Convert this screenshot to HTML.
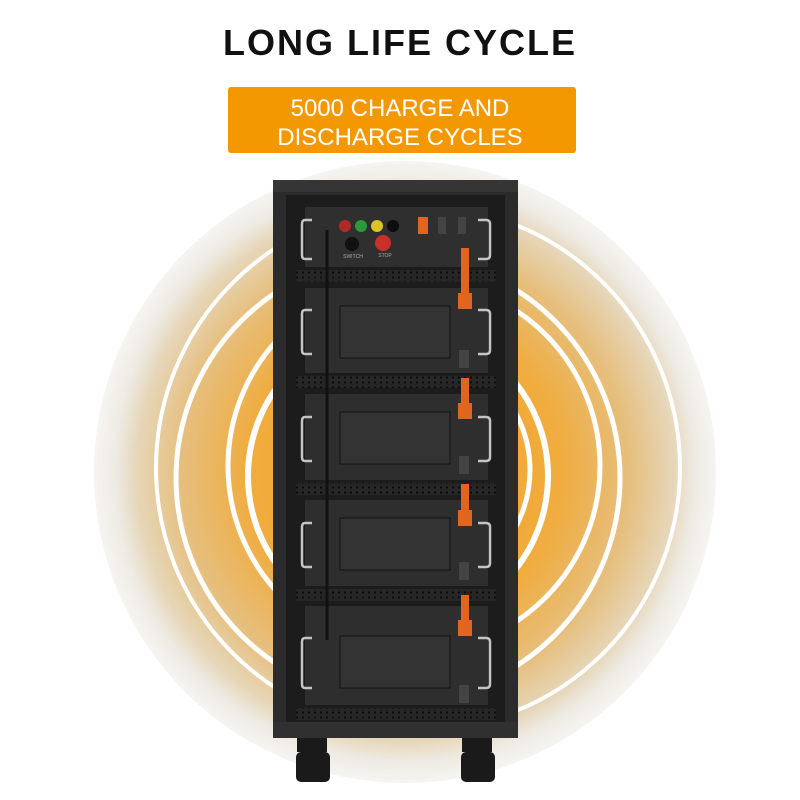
<!DOCTYPE html>
<html><head><meta charset="utf-8"><style>
html,body{margin:0;padding:0;background:#fff;width:800px;height:800px;overflow:hidden}
</style></head><body>
<svg width="800" height="800" viewBox="0 0 800 800" xmlns="http://www.w3.org/2000/svg">
<defs>
<radialGradient id="bg" cx="405" cy="472" r="312" gradientUnits="userSpaceOnUse">
<stop offset="0" stop-color="#f7a326"/><stop offset="0.5" stop-color="#f0ac3e"/><stop offset="0.72" stop-color="#e6bf7e"/><stop offset="0.86" stop-color="#e6d6b8"/><stop offset="0.93" stop-color="#eeebe4"/><stop offset="1" stop-color="#f6f5f2"/>
</radialGradient>
<pattern id="holes" width="6" height="5" patternUnits="userSpaceOnUse"><rect width="6" height="5" fill="#262626"/><circle cx="3" cy="2.5" r="1.1" fill="#0a0a0a"/></pattern>
</defs>
<circle cx="405" cy="472" r="311" fill="url(#bg)"/>
<g fill="none" stroke="#fff">
<circle cx="418" cy="468" r="262" stroke-width="4"/>
<circle cx="398" cy="478" r="222" stroke-width="5"/>
<circle cx="414" cy="466" r="186" stroke-width="5"/>
<circle cx="398" cy="476" r="150" stroke-width="6"/>
<circle cx="410" cy="470" r="120" stroke-width="5"/>
</g>
<text x="400" y="55" text-anchor="middle" font-family="Liberation Sans, sans-serif" font-weight="bold" font-size="36" letter-spacing="2" fill="#111">LONG LIFE CYCLE</text>
<rect x="228" y="87" width="348" height="66" rx="3" fill="#f39800"/>
<text x="400" y="116" text-anchor="middle" font-family="Liberation Sans, sans-serif" font-size="24" fill="#fff">5000 CHARGE AND</text>
<text x="400" y="145" text-anchor="middle" font-family="Liberation Sans, sans-serif" font-size="24" fill="#fff">DISCHARGE CYCLES</text>
<rect x="273" y="180" width="245" height="558" fill="#2b2b2b"/>
<rect x="273" y="180" width="245" height="12" fill="#353535"/>
<rect x="286" y="195" width="219" height="528" fill="#1c1c1c"/>
<rect x="273" y="722" width="245" height="16" fill="#303030"/>
<g fill="#1a1a1a"><rect x="297" y="738" width="30" height="14"/><rect x="296" y="752" width="34" height="30" rx="5"/><rect x="462" y="738" width="30" height="14"/><rect x="461" y="752" width="34" height="30" rx="5"/></g>
<rect x="296" y="270" width="200" height="12" fill="url(#holes)"/>
<rect x="296" y="376" width="200" height="12" fill="url(#holes)"/>
<rect x="296" y="483" width="200" height="12" fill="url(#holes)"/>
<rect x="296" y="589" width="200" height="12" fill="url(#holes)"/>
<rect x="296" y="708" width="200" height="12" fill="url(#holes)"/>
<rect x="305" y="207" width="183" height="60" fill="#2f2f2f"/>
<circle cx="345" cy="226" r="6" fill="#b02a2a"/><circle cx="361" cy="226" r="6" fill="#2a9a3a"/><circle cx="377" cy="226" r="6" fill="#d8c428"/><circle cx="393" cy="226" r="6" fill="#0d0d0d"/>
<circle cx="352" cy="244" r="7" fill="#111"/><circle cx="383" cy="243" r="8" fill="#c9302c"/>
<text x="353" y="258" font-size="5" fill="#aaa" text-anchor="middle" font-family="Liberation Sans, sans-serif">SWITCH</text>
<text x="385" y="257" font-size="5" fill="#aaa" text-anchor="middle" font-family="Liberation Sans, sans-serif">STOP</text>
<rect x="418" y="217" width="10" height="17" fill="#e0651f"/><rect x="438" y="217" width="8" height="17" fill="#444"/><rect x="458" y="217" width="8" height="17" fill="#444"/>
<g fill="#2e2e2e">
<rect x="305" y="288" width="183" height="85"/><rect x="305" y="394" width="183" height="86"/><rect x="305" y="500" width="183" height="86"/><rect x="305" y="606" width="183" height="99"/>
</g>
<g fill="#333" stroke="#111">
<rect x="340" y="306" width="110" height="52"/><rect x="340" y="412" width="110" height="52"/><rect x="340" y="518" width="110" height="52"/><rect x="340" y="636" width="110" height="52"/>
</g>
<g fill="none" stroke="#c4c4c4" stroke-width="2.5" stroke-linejoin="round">
<path d="M312 220 H305 Q302 220 302 224 V255 Q302 259 305 259 H312"/><path d="M478 220 H486 Q490 220 490 224 V255 Q490 259 486 259 H478"/>
<path d="M312 310 H305 Q302 310 302 314 V350 Q302 354 305 354 H312"/><path d="M478 310 H486 Q490 310 490 314 V350 Q490 354 486 354 H478"/>
<path d="M312 417 H305 Q302 417 302 421 V457 Q302 461 305 461 H312"/><path d="M478 417 H486 Q490 417 490 421 V457 Q490 461 486 461 H478"/>
<path d="M312 523 H305 Q302 523 302 527 V563 Q302 567 305 567 H312"/><path d="M478 523 H486 Q490 523 490 527 V563 Q490 567 486 567 H478"/>
<path d="M312 638 H305 Q302 638 302 642 V684 Q302 688 305 688 H312"/><path d="M478 638 H486 Q490 638 490 642 V684 Q490 688 486 688 H478"/>
</g>
<line x1="327" y1="230" x2="327" y2="640" stroke="#111" stroke-width="3"/>
<g fill="#e0651f">
<rect x="461" y="248" width="8" height="60"/><rect x="458" y="293" width="14" height="16"/>
<rect x="461" y="378" width="8" height="40"/><rect x="458" y="403" width="14" height="16"/>
<rect x="461" y="484" width="8" height="40"/><rect x="458" y="510" width="14" height="16"/>
<rect x="461" y="595" width="8" height="40"/><rect x="458" y="620" width="14" height="16"/>
</g>
<g fill="#444"><rect x="459" y="350" width="10" height="18"/><rect x="459" y="456" width="10" height="18"/><rect x="459" y="562" width="10" height="18"/><rect x="459" y="685" width="10" height="18"/></g>
</svg>
</body></html>
